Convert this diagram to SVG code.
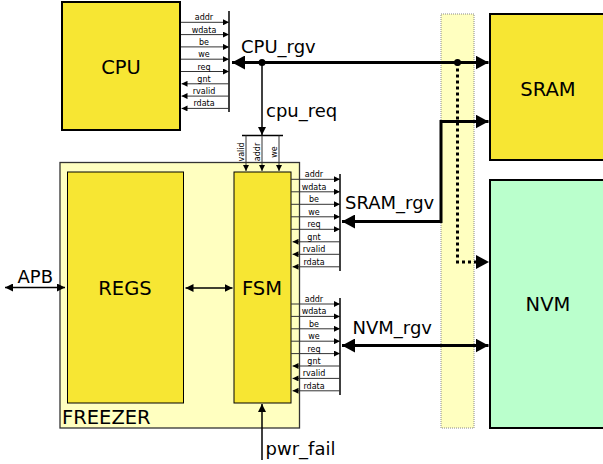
<svg xmlns="http://www.w3.org/2000/svg" width="603" height="464" viewBox="0 0 603 464">
<style>
.box{fill:#f7e633;stroke:#000;stroke-width:2}
.ibox{fill:#f7e633;stroke:#000;stroke-width:1}
.lbl{font-family:"DejaVu Sans",sans-serif;font-size:19.5px;fill:#000;text-anchor:middle}
.cl{font-family:"DejaVu Sans",sans-serif;font-size:18px;fill:#000}
.sl{font-family:"DejaVu Sans",sans-serif;font-size:8px;fill:#000;text-anchor:middle}
.sig{stroke:#333;stroke-width:1;fill:none}
.sr{marker-end:url(#sa)}
.bar{stroke:#000;stroke-width:1.5}
.thick{stroke:#000;stroke-width:3;fill:none}
.med{stroke:#000;stroke-width:1.5;fill:none}
</style>
<defs>
<marker id="sa" markerUnits="userSpaceOnUse" markerWidth="6" markerHeight="6" refX="6" refY="3" orient="auto"><path d="M0,0L6,3L0,6z" fill="#000"/></marker>
<marker id="big" markerUnits="userSpaceOnUse" markerWidth="13" markerHeight="14" refX="13" refY="7" orient="auto-start-reverse"><path d="M0,0L13,7L0,14z" fill="#000"/></marker>
<marker id="md" markerUnits="userSpaceOnUse" markerWidth="8" markerHeight="8" refX="8" refY="4" orient="auto-start-reverse"><path d="M0,0L8,4L0,8z" fill="#000"/></marker>
</defs>

<rect id="bus-column" x="441" y="14" width="33" height="414" fill="#ffffc0" stroke="#888" stroke-width="1" stroke-dasharray="1,1"/>

<g id="freezer">
<rect x="60" y="162.5" width="239.5" height="265.5" fill="#ffffc0" stroke="#333" stroke-width="1.3"/>
<text x="62" y="424" font-family="DejaVu Sans,sans-serif" font-size="19.5px">FREEZER</text>
</g>
<g id="cpu">
<rect class="box" x="62" y="2" width="118" height="128"/>
<text class="lbl" x="121" y="74">CPU</text>
</g>
<g id="sram">
<rect class="box" x="490" y="14" width="120" height="146"/>
<text class="lbl" x="548" y="96">SRAM</text>
</g>
<g id="nvm">
<rect x="490" y="180" width="120" height="248" fill="#baffcc" stroke="#000" stroke-width="2"/>
<text class="lbl" x="548" y="311">NVM</text>
</g>
<g id="regs">
<rect class="ibox" x="67.5" y="172" width="116" height="231"/>
<text class="lbl" x="125" y="295">REGS</text>
</g>
<g id="fsm">
<rect class="ibox" x="234" y="172" width="57" height="231"/>
<text class="lbl" x="262" y="295">FSM</text>
</g>

<g id="connectors">
<!-- CPU signals -->
<g id="cpu-signals">
<line class="bar" x1="229" y1="11" x2="229" y2="112"/>
<line class="sig sr" x1="181" y1="22.3" x2="229" y2="22.3"/>
<line class="sig sr" x1="181" y1="34.6" x2="229" y2="34.6"/>
<line class="sig sr" x1="181" y1="46.9" x2="229" y2="46.9"/>
<line class="sig sr" x1="181" y1="59.2" x2="229" y2="59.2"/>
<line class="sig sr" x1="181" y1="71.5" x2="229" y2="71.5"/>
<line class="sig sr" x1="229" y1="83.8" x2="181.5" y2="83.8"/>
<line class="sig sr" x1="229" y1="96.1" x2="181.5" y2="96.1"/>
<line class="sig sr" x1="229" y1="108.4" x2="181.5" y2="108.4"/>
<text class="sl" x="204" y="20.3">addr</text>
<text class="sl" x="204" y="32.6">wdata</text>
<text class="sl" x="204" y="44.9">be</text>
<text class="sl" x="204" y="57.2">we</text>
<text class="sl" x="204" y="69.5">req</text>
<text class="sl" x="204" y="81.8">gnt</text>
<text class="sl" x="204" y="94.1">rvalid</text>
<text class="sl" x="204" y="106.4">rdata</text>
</g>
<!-- SRAM side signals -->
<g id="sram-signals">
<line class="bar" x1="340" y1="174" x2="340" y2="271"/>
<line class="sig sr" x1="291" y1="179.3" x2="340" y2="179.3"/>
<line class="sig sr" x1="291" y1="191.8" x2="340" y2="191.8"/>
<line class="sig sr" x1="291" y1="204.3" x2="340" y2="204.3"/>
<line class="sig sr" x1="291" y1="216.8" x2="340" y2="216.8"/>
<line class="sig sr" x1="291" y1="229.3" x2="340" y2="229.3"/>
<line class="sig sr" x1="340" y1="241.8" x2="292.5" y2="241.8"/>
<line class="sig sr" x1="340" y1="254.3" x2="292.5" y2="254.3"/>
<line class="sig sr" x1="340" y1="266.8" x2="292.5" y2="266.8"/>
<text class="sl" x="314" y="177.3">addr</text>
<text class="sl" x="314" y="189.8">wdata</text>
<text class="sl" x="314" y="202.3">be</text>
<text class="sl" x="314" y="214.8">we</text>
<text class="sl" x="314" y="227.3">req</text>
<text class="sl" x="314" y="239.8">gnt</text>
<text class="sl" x="314" y="252.3">rvalid</text>
<text class="sl" x="314" y="264.8">rdata</text>
</g>
<!-- NVM side signals -->
<g id="nvm-signals">
<line class="bar" x1="340" y1="298" x2="340" y2="395"/>
<line class="sig sr" x1="291" y1="304" x2="340" y2="304"/>
<line class="sig sr" x1="291" y1="316.4" x2="340" y2="316.4"/>
<line class="sig sr" x1="291" y1="328.8" x2="340" y2="328.8"/>
<line class="sig sr" x1="291" y1="341.2" x2="340" y2="341.2"/>
<line class="sig sr" x1="291" y1="353.6" x2="340" y2="353.6"/>
<line class="sig sr" x1="340" y1="366" x2="292.5" y2="366"/>
<line class="sig sr" x1="340" y1="378.4" x2="292.5" y2="378.4"/>
<line class="sig sr" x1="340" y1="390.8" x2="292.5" y2="390.8"/>
<text class="sl" x="314" y="302">addr</text>
<text class="sl" x="314" y="314.4">wdata</text>
<text class="sl" x="314" y="326.8">be</text>
<text class="sl" x="314" y="339.2">we</text>
<text class="sl" x="314" y="351.6">req</text>
<text class="sl" x="314" y="364">gnt</text>
<text class="sl" x="314" y="376.4">rvalid</text>
<text class="sl" x="314" y="388.8">rdata</text>
</g>
<!-- cpu_req -->
<g id="cpu-req">
<line class="med" x1="262" y1="63" x2="262" y2="135" marker-end="url(#md)"/>
<line class="bar" x1="242" y1="135.5" x2="283" y2="135.5"/>
<line class="sig sr" x1="246" y1="135.5" x2="246" y2="171"/>
<line class="sig sr" x1="262" y1="135.5" x2="262" y2="171"/>
<line class="sig sr" x1="279" y1="135.5" x2="279" y2="171"/>
<text class="sl" transform="translate(244,152) rotate(-90)">valid</text>
<text class="sl" transform="translate(260,152) rotate(-90)">addr</text>
<text class="sl" transform="translate(277,152) rotate(-90)">we</text>
<text class="cl" x="266" y="117">cpu_req</text>
</g>
<!-- CPU_rgv -->
<line class="thick" x1="232" y1="62.5" x2="488.5" y2="62.5" marker-start="url(#big)" marker-end="url(#big)"/>
<circle cx="262" cy="62.5" r="3.5" fill="#000"/>
<circle cx="457.5" cy="62.5" r="3.5" fill="#000"/>
<text class="cl" x="241" y="53">CPU_rgv</text>
<!-- dotted to NVM -->
<path d="M457.5,62.5V262H478" fill="none" stroke="#000" stroke-width="3" stroke-dasharray="3,3"/>
<path d="M476,255L489,262L476,269z" fill="#000"/>
<!-- SRAM_rgv -->
<path class="thick" d="M342,221.5H441V121.5H488.5" marker-start="url(#big)" marker-end="url(#big)"/>
<text class="cl" x="345" y="208.5">SRAM_rgv</text>
<!-- NVM_rgv -->
<line class="thick" x1="342" y1="345.5" x2="488.5" y2="345.5" marker-start="url(#big)" marker-end="url(#big)"/>
<text class="cl" x="352.5" y="334">NVM_rgv</text>
<!-- APB -->
<line class="med" x1="5" y1="287.5" x2="65" y2="287.5" marker-start="url(#md)" marker-end="url(#md)"/>
<text class="cl" x="17.5" y="282.5">APB</text>
<!-- REGS-FSM -->
<line class="med" x1="185.5" y1="288" x2="232.5" y2="288" marker-start="url(#md)" marker-end="url(#md)"/>
<!-- pwr_fail -->
<line class="med" x1="262" y1="460" x2="262" y2="404" marker-end="url(#md)"/>
<text class="cl" x="265.5" y="455">pwr_fail</text>
</g>
</svg>
